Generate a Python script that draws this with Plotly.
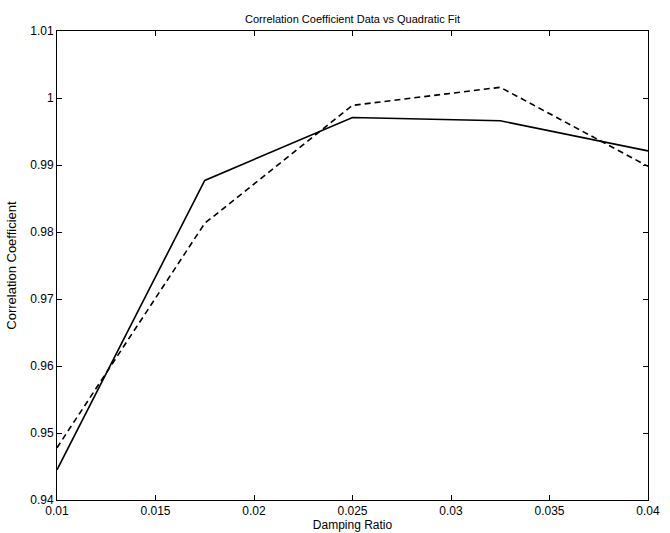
import plotly.graph_objects as go

damping_ratio = [0.01, 0.0175, 0.025, 0.0325, 0.04]
corr_data = [0.9445, 0.9877, 0.9971, 0.9966, 0.9921]
corr_fit = [0.9478, 0.9813, 0.9989, 1.0016, 0.9898]

x_ticks = [0.01, 0.015, 0.02, 0.025, 0.03, 0.035, 0.04]
x_tick_labels = ["0.01", "0.015", "0.02", "0.025", "0.03", "0.035", "0.04"]
y_ticks = [0.94, 0.95, 0.96, 0.97, 0.98, 0.99, 1.0, 1.01]
y_tick_labels = ["0.94", "0.95", "0.96", "0.97", "0.98", "0.99", "1", "1.01"]

font_family = "Liberation Sans, Arial, Helvetica, sans-serif"

fig = go.Figure()
fig.add_trace(go.Scatter(x=damping_ratio, y=corr_data, mode="lines",
                         line=dict(color="black", width=1.6), name="Data"))
fig.add_trace(go.Scatter(x=damping_ratio, y=corr_fit, mode="lines",
                         line=dict(color="black", width=1.6, dash="6px,4px"), name="Quadratic Fit"))

axis_common = dict(showgrid=False, zeroline=False, showline=True, linecolor="black",
                   linewidth=1, mirror="ticks", ticks="inside", ticklen=5, automargin=False,
                   tickcolor="black", tickfont=dict(family=font_family, size=12, color="black"))

fig.update_layout(
    width=670, height=533,
    margin=dict(l=57, r=22, t=31, b=33),
    paper_bgcolor="white", plot_bgcolor="white",
    showlegend=False,
    title=dict(text="Correlation Coefficient Data vs Quadratic Fit",
               font=dict(family=font_family, size=11, color="black"),
               x=0.5, xanchor="center", xref="paper", y=0.965, yanchor="middle"),
    xaxis=dict(range=[0.01, 0.04], tickvals=x_ticks, ticktext=x_tick_labels,
               title=dict(text="Damping Ratio", font=dict(family=font_family, size=12, color="black"),
                          standoff=3), **axis_common),
    yaxis=dict(range=[0.94, 1.01], tickvals=y_ticks, ticktext=y_tick_labels,
               title=dict(text="Correlation Coefficient", font=dict(family=font_family, size=13, color="black"),
                          standoff=10), **axis_common),
)

fig.write_html("out.html", config={"displayModeBar": False},
               post_script="document.body.style.margin='0';")
